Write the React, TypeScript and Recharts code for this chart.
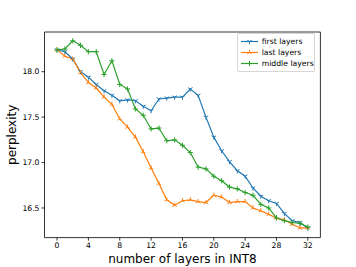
import React from "react";
import {
  LineChart,
  Line,
  XAxis,
  YAxis,
  Legend,
  ReferenceArea,
} from "recharts";

const layers = [
  0, 1, 2, 3, 4, 5, 6, 7, 8, 9, 10, 11, 12, 13, 14, 15, 16, 17, 18, 19, 20, 21, 22, 23, 24, 25, 26, 27, 28, 29, 30, 31, 32,
];
const firstLayers = [
  18.24, 18.22, 18.14, 18.0, 17.94, 17.86, 17.79, 17.74, 17.68, 17.69, 17.68, 17.62, 17.57, 17.7, 17.71, 17.72, 17.72,
  17.81, 17.74, 17.5, 17.28, 17.13, 17.01, 16.91, 16.85, 16.72, 16.63, 16.58, 16.55, 16.44, 16.36, 16.34, 16.28,
];
const lastLayers = [
  18.24, 18.17, 18.14, 17.99, 17.88, 17.82, 17.72, 17.64, 17.48, 17.39, 17.28, 17.12, 16.94, 16.77, 16.59, 16.53, 16.58,
  16.59, 16.57, 16.56, 16.64, 16.62, 16.56, 16.57, 16.57, 16.5, 16.47, 16.43, 16.39, 16.37, 16.32, 16.28, 16.28,
];
const middleLayers = [
  18.24, 18.25, 18.34, 18.29, 18.22, 18.22, 17.97, 18.12, 17.86, 17.81, 17.59, 17.52, 17.37, 17.38, 17.24, 17.25, 17.19,
  17.11, 16.95, 16.93, 16.85, 16.8, 16.73, 16.71, 16.67, 16.64, 16.54, 16.5, 16.39, 16.36, 16.34, 16.33, 16.29,
];
const xTicks = [0, 4, 8, 12, 16, 20, 24, 28, 32];
const yTicks = [16.5, 17.0, 17.5, 18.0];

const BLUE = "#1f77b4";
const ORANGE = "#ff7f0e";
const GREEN = "#2ca02c";
const FONT = "'DejaVu Sans', sans-serif";

const data = layers.map((x, i) => ({
  x,
  first: firstLayers[i],
  last: lastLayers[i],
  middle: middleLayers[i],
}));

const series = [
  { key: "first", name: "first layers", color: BLUE, marker: "down" },
  { key: "last", name: "last layers", color: ORANGE, marker: "up" },
  { key: "middle", name: "middle layers", color: GREEN, marker: "plus" },
];

function Marker({ cx, cy, kind, color }: { cx: number; cy: number; kind: string; color: string }) {
  const r = 2.6;
  const s = 0.866 * r;
  let d = "";
  if (kind === "down") {
    d = `M${cx},${cy}L${cx},${cy + r}M${cx},${cy}L${cx - s},${cy - r / 2}M${cx},${cy}L${cx + s},${cy - r / 2}`;
  } else if (kind === "up") {
    d = `M${cx},${cy}L${cx},${cy - r}M${cx},${cy}L${cx - s},${cy + r / 2}M${cx},${cy}L${cx + s},${cy + r / 2}`;
  } else {
    d = `M${cx - r},${cy}L${cx + r},${cy}M${cx},${cy - r}L${cx},${cy + r}`;
  }
  return <path d={d} stroke={color} strokeWidth={1} fill="none" />;
}

function makeDot(kind: string, color: string) {
  return (props: any) => {
    const { cx, cy, index } = props;
    if (cx == null || cy == null) return <g key={`${kind}-${index}`} />;
    return (
      <g key={`${kind}-${index}`}>
        <Marker cx={cx} cy={cy} kind={kind} color={color} />
      </g>
    );
  };
}

function LegendBox() {
  return (
    <div
      style={{
        boxSizing: "border-box",
        width: 78.5,
        height: 38.5,
        border: "1px solid #d6d6d6",
        borderRadius: 2,
        background: "rgba(255,255,255,0.8)",
        padding: "2px 2px 2px 2px",
        fontFamily: FONT,
        fontSize: 7.7,
        color: "#000",
        whiteSpace: "nowrap",
      }}
    >
      {series.map((s) => (
        <div key={s.key} style={{ display: "flex", alignItems: "center", height: 11 }}>
          <svg width={19} height={11} style={{ marginRight: 3, flexShrink: 0 }}>
            <line x1={1} y1={5.5} x2={18} y2={5.5} stroke={s.color} strokeWidth={1.2} />
            <Marker cx={9.5} cy={5.5} kind={s.marker} color={s.color} />
          </svg>
          <span>{s.name}</span>
        </div>
      ))}
    </div>
  );
}

export default function App() {
  return (
    <div style={{ position: "absolute", left: 0, top: 0, width: 356, height: 267, background: "#fff" }}>
      <LineChart
        width={356}
        height={267}
        data={data}
        margin={{ top: 32, right: 35.6, bottom: 0, left: 0 }}
        style={{ fontFamily: FONT }}
      >
        <XAxis
          dataKey="x"
          type="number"
          domain={[-1.6, 33.6]}
          ticks={xTicks}
          allowDataOverflow
          height={29.4}
          tickSize={3}
          tickMargin={2}
          tick={{ fontSize: 7.7, fill: "#000", fontFamily: FONT }}
          tickLine={{ stroke: "#000", strokeWidth: 0.8 }}
          axisLine={false}
          label={{ value: "number of layers in INT8", position: "insideBottom", offset: 4, fontSize: 12, fill: "#000", fontFamily: FONT }}
        />
        <YAxis
          type="number"
          domain={[16.174, 18.437]}
          ticks={yTicks}
          allowDataOverflow
          width={44.5}
          tickSize={3}
          tickMargin={2}
          tickFormatter={(v: number) => v.toFixed(1)}
          tick={{ fontSize: 7.7, fill: "#000", fontFamily: FONT }}
          tickLine={{ stroke: "#000", strokeWidth: 0.8 }}
          axisLine={false}
          label={{ value: "perplexity", angle: -90, position: "center", dx: -10, fontSize: 12, fill: "#000", fontFamily: FONT }}
        />
        <ReferenceArea
          x1={-1.6}
          x2={33.6}
          y1={16.174}
          y2={18.437}
          fill="none"
          stroke="#000"
          strokeWidth={0.8}
          ifOverflow="visible"
        />
        {series.map((s) => (
          <Line
            key={s.key}
            dataKey={s.key}
            name={s.name}
            stroke={s.color}
            strokeWidth={1.2}
            dot={makeDot(s.marker, s.color)}
            activeDot={false}
            isAnimationActive={false}
          />
        ))}
        <Legend
          layout="vertical"
          align="center"
          verticalAlign="middle"
          content={() => <LegendBox />}
          wrapperStyle={{ position: "absolute", top: 33, left: 236.7, width: 78.5 }}
        />
      </LineChart>
    </div>
  );
}
